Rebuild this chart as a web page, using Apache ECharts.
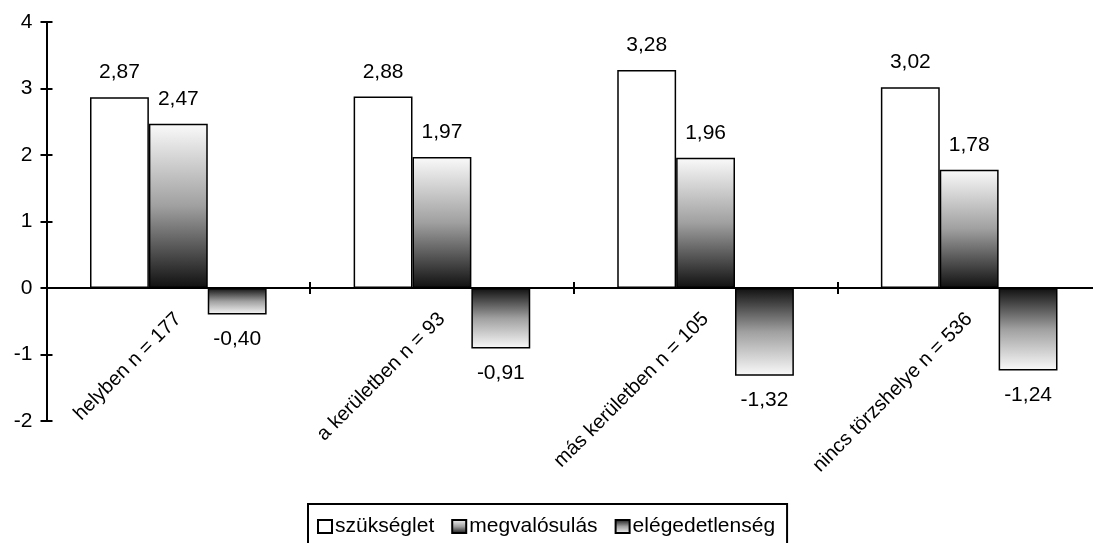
<!DOCTYPE html>
<html>
<head>
<meta charset="utf-8">
<script src="https://cdn.jsdelivr.net/npm/echarts@6/dist/echarts.min.js"></script>
<style>html,body{margin:0;padding:0;background:#fff;}#c{width:1093px;height:543px;}</style>
</head>
<body>
<div id="c"></div>
<script>
var categories = ['helyben n = 177', 'a kerületben n = 93', 'más kerületben n = 105', 'nincs törzshelye n = 536'];
var seriesNames = ['szükséglet', 'megvalósulás', 'elégedetlenség'];
var szukseglet = [2.87, 2.88, 3.28, 3.02];
var megvalosulas = [2.47, 1.97, 1.96, 1.78];
var elegedetlenseg = [-0.40, -0.91, -1.32, -1.24];
var yMin = -2, yMax = 4, yInterval = 1;

var FONT = 'Liberation Sans, Arial, sans-serif';
var FS = 21;
var GRID_TOP = 22, GRID_BOTTOM = 122;
var plotH = 543 - GRID_TOP - GRID_BOTTOM;
var zeroOffset = -plotH * (0 - yMin) / (yMax - yMin);
function fmt(v) { return v.toFixed(2).replace('.', ','); }
function lbl(pos) {
  return { show: true, position: pos, distance: 14, color: '#000', fontFamily: FONT, fontSize: FS,
    formatter: function (p) { return fmt(p.value); } };
}
var chart = echarts.init(document.getElementById('c'), null, { renderer: 'canvas' });
chart.setOption({
  animation: false,
  backgroundColor: '#fff',
  grid: { left: 46.5, right: -8, top: GRID_TOP, bottom: GRID_BOTTOM, containLabel: false, outerBoundsMode: 'none' },
  legend: {
    data: seriesNames,
    left: 308, top: 504,
    orient: 'horizontal',
    borderColor: '#000', borderWidth: 2, borderRadius: 0,
    padding: [12, 12, 30, 9],
    itemWidth: 14, itemHeight: 13, itemGap: 17,
    icon: 'rect',
    textStyle: { color: '#000', fontFamily: FONT, fontSize: FS, padding: [0, 0, 0, -2] }
  },
  xAxis: [{
    type: 'category', data: categories,
    axisLine: { onZero: true, lineStyle: { color: '#000', width: 2 } },
    axisTick: { show: true, length: 6, lineStyle: { color: '#000', width: 2 } },
    axisLabel: { show: false },
    splitLine: { show: false }
  }, {
    type: 'category', data: categories, position: 'bottom',
    axisLine: { show: false, onZero: true },
    axisTick: { show: true, inside: true, length: 6, lineStyle: { color: '#000', width: 2 } },
    axisLabel: { show: false }
  }, {
    type: 'category', data: categories, position: 'bottom', offset: zeroOffset,
    axisLine: { show: false, onZero: false },
    axisTick: { show: false },
    axisLabel: { rotate: 45, margin: 28, color: '#000', fontFamily: FONT, fontSize: 20, interval: 0 }
  }],
  yAxis: [{
    type: 'value', min: yMin, max: yMax, interval: yInterval,
    axisLine: { show: true, lineStyle: { color: '#000', width: 2 } },
    axisTick: { show: true, length: 6, lineStyle: { color: '#000', width: 2 } },
    axisLabel: { margin: 14, color: '#000', fontFamily: FONT, fontSize: FS },
    splitLine: { show: false }
  }, {
    type: 'value', min: yMin, max: yMax, interval: yInterval, position: 'left',
    axisLine: { show: false },
    axisTick: { show: true, inside: true, length: 6, lineStyle: { color: '#000', width: 2 } },
    axisLabel: { show: false },
    splitLine: { show: false }
  }],
  series: [{
    name: seriesNames[0], type: 'bar', data: szukseglet,
    barGap: '0%', barCategoryGap: '33%',
    itemStyle: { color: '#fff', borderColor: '#000', borderWidth: 1.5 },
    label: lbl('top')
  }, {
    name: seriesNames[1], type: 'bar', data: megvalosulas,
    itemStyle: {
      color: new echarts.graphic.LinearGradient(0, 0, 0, 1, [
        { offset: 0, color: '#fafafa' }, { offset: 0.5, color: '#a0a0a0' }, { offset: 1, color: '#101010' }]),
      borderColor: '#000', borderWidth: 1.5
    },
    label: lbl('top')
  }, {
    name: seriesNames[2], type: 'bar', data: elegedetlenseg,
    itemStyle: {
      color: new echarts.graphic.LinearGradient(0, 0, 0, 1, [
        { offset: 0, color: '#101010' }, { offset: 0.5, color: '#a0a0a0' }, { offset: 1, color: '#fafafa' }]),
      borderColor: '#000', borderWidth: 1.5
    },
    label: lbl('bottom')
  }]
});
</script>
</body>
</html>
